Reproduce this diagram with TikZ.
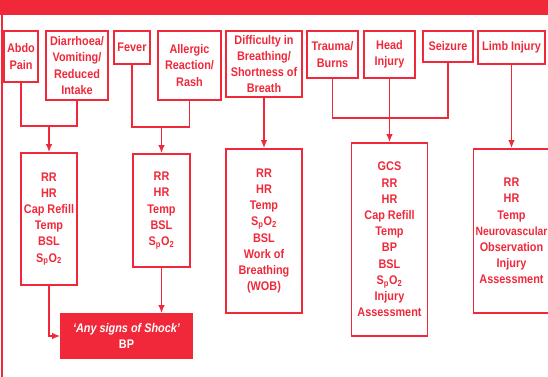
\documentclass[tikz,border=0pt]{standalone}
\usepackage{fontspec}
\setmainfont{Liberation Sans}[FakeStretch=0.87]
\usetikzlibrary{arrows.meta}
\definecolor{nred}{RGB}{240,40,58}
\begin{document}
\begin{tikzpicture}[x=1pt,y=-1pt,
  box/.style={draw=nred,line width=1.6pt,align=center,text=nred,inner sep=0pt,
    font=\fontsize{12.5}{16.2}\selectfont\bfseries},
  conn/.style={draw=nred,line width=1.6pt},
  arr/.style={conn,-{Latex[length=8pt,width=6.5pt]}},
  ]
\useasboundingbox (0,0) rectangle (548,376);
\begin{scope}
\clip (0,0) rectangle (548,376);
\fill[nred] (0,0) rectangle (548,15);
\draw[nred,line width=2pt] (1.5,15) -- (1.5,377);
% top boxes
\node[box,minimum width=34pt,minimum height=51pt] (abdo) at (21,56.5) {Abdo\\Pain};
\node[box,minimum width=62pt,minimum height=69pt] (diar) at (77,65.5) {Diarrhoea/\\Vomiting/\\Reduced\\Intake};
\node[box,minimum width=36pt,minimum height=33pt] (fever) at (132,47.5) {Fever};
\node[box,minimum width=63pt,minimum height=69pt] (allergic) at (189.5,65.5) {Allergic\\Reaction/\\Rash};
\node[box,minimum width=76pt,minimum height=66pt] (diff) at (264,64) {Difficulty in\\Breathing/\\Shortness of\\Breath};
\node[box,minimum width=51pt,minimum height=47pt] (trauma) at (332.5,54.5) {Trauma/\\Burns};
\node[box,minimum width=51pt,minimum height=47pt] (head) at (389.5,54.5) {Head\\Injury};
\node[box,minimum width=50pt,minimum height=31pt] (seizure) at (448,46.5) {Seizure};
\node[box,minimum width=67pt,minimum height=33pt] (limb) at (511.5,47.5) {Limb Injury};
% lower boxes
\node[box,minimum width=56pt,minimum height=132pt] (b1) at (49,219) {RR\\HR\\Cap Refill\\Temp\\BSL\\S\textsubscript{p}O\textsubscript{2}};
\node[box,minimum width=57pt,minimum height=113pt] (b2) at (161.5,210.5) {RR\\HR\\Temp\\BSL\\S\textsubscript{p}O\textsubscript{2}};
\node[box,minimum width=76pt,minimum height=164pt] (b3) at (264,231) {RR\\HR\\Temp\\S\textsubscript{p}O\textsubscript{2}\\BSL\\Work of\\Breathing\\(WOB)};
\node[box,minimum width=76pt,minimum height=193pt] (b4) at (389.5,239.5) {GCS\\RR\\HR\\Cap Refill\\Temp\\BP\\BSL\\S\textsubscript{p}O\textsubscript{2}\\Injury\\Assessment};
\node[box,minimum width=76pt,minimum height=164pt] (b5) at (511.5,231) {RR\\HR\\Temp\\{\fontsize{11.9}{16.2}\selectfont Neurovascular}\\Observation\\Injury\\Assessment};
\node[box,fill=nred,text=white,minimum width=131pt,minimum height=44pt] (shock) at (126.5,336) {\itshape ‘Any signs of Shock’\\BP};
% junctions
\coordinate (j1) at (49,126);
\coordinate (j2) at (161.5,127);
\coordinate (j3) at (389.5,118);
% connectors
\draw[conn] (abdo.south) |- (j1) -| (diar.south);
\draw[arr] (j1) -- (b1.north);
\draw[conn] (fever.south) |- (j2) -| (allergic.south);
\draw[arr] (j2) -- (b2.north);
\draw[arr] (diff.south) -- (b3.north);
\draw[conn] (trauma.south) |- (j3) -| (seizure.south);
\draw[arr] (head.south) -- (b4.north);
\draw[arr] (limb.south) -- (b5.north);
\draw[arr] (b1.south) |- (shock.west);
\draw[arr] (b2.south) -- (b2.south |- shock.north);
\end{scope}
\end{tikzpicture}
\end{document}
